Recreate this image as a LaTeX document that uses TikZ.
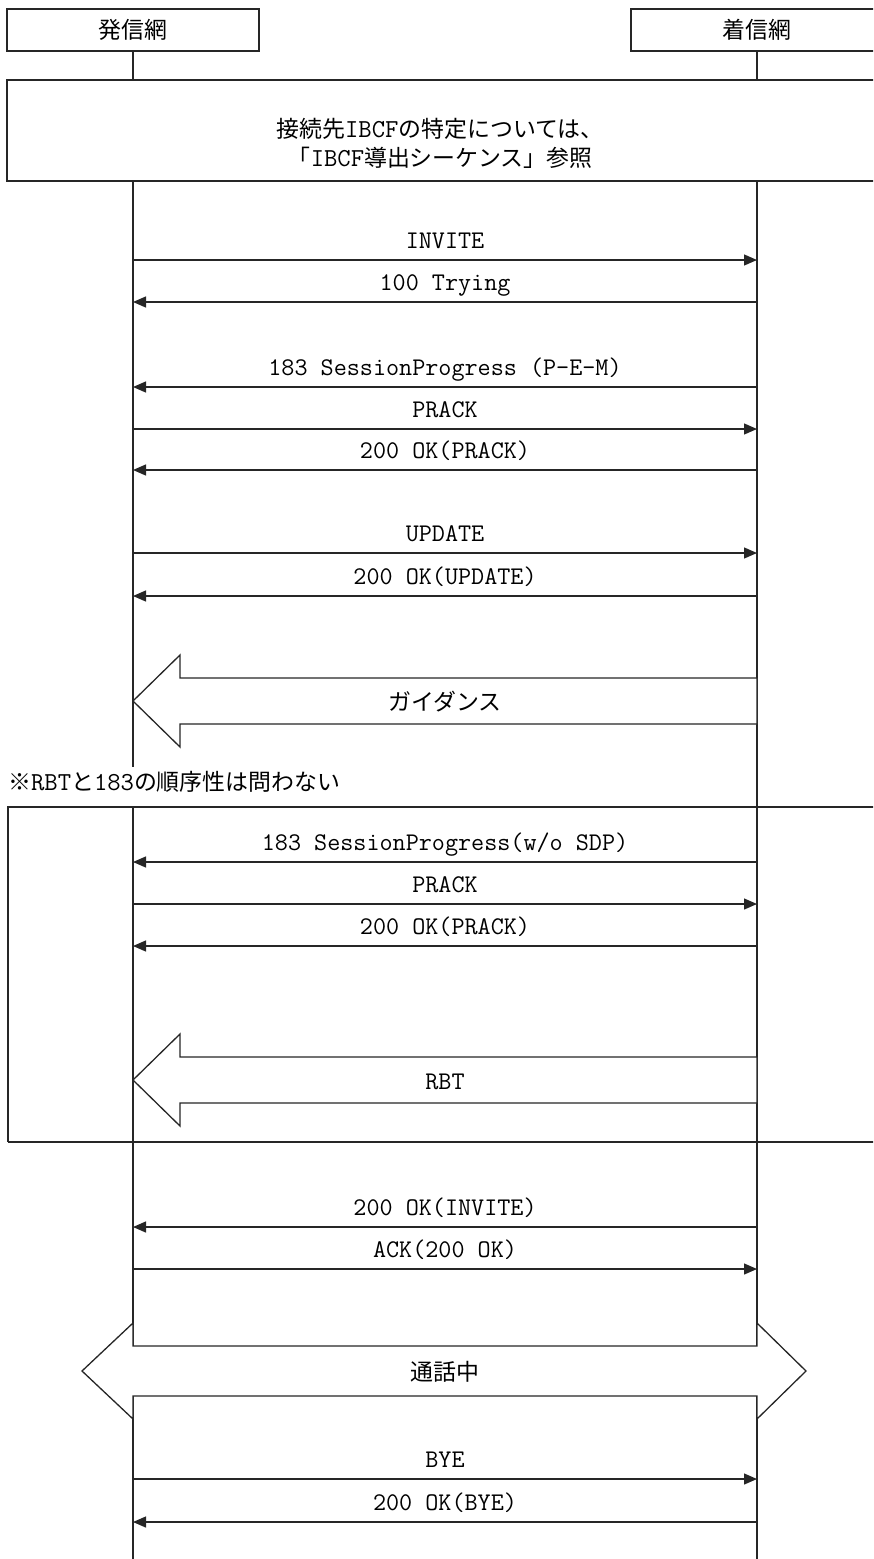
\documentclass[tikz,border=0pt]{standalone}
\usepackage{fontspec}
\newfontfamily\jp{Noto Sans CJK JP}
\newcommand\lat{\ttfamily}
\newcommand\il[1]{{\ttfamily\fontsize{26}{28}\selectfont #1}}
\usetikzlibrary{arrows.meta}
\tikzset{
  ln/.style={line width=1.3bp, draw=black!85},
  msg/.style={ln, -{Triangle[length=13bp,width=11bp]}},
  box/.style={ln, fill=white},
  lab/.style={anchor=base, inner sep=0pt, font=\lat\fontsize{25.5}{28}\selectfont},
  jlab/.style={anchor=center, inner sep=0pt, font=\jp\fontsize{23}{28}\selectfont},
}
\newcommand\sigR[3]{%
  \coordinate (#1a) at (133,#2); \coordinate (#1b) at (757,#2);
  \draw[msg] (#1a) -- (#1b);
  \node[lab] (#1t) at (445,#2-12) {#3};}
\newcommand\sigL[3]{%
  \coordinate (#1a) at (133,#2); \coordinate (#1b) at (757,#2);
  \draw[msg] (#1b) -- (#1a);
  \node[lab] (#1t) at (445,#2-12) {#3};}
\begin{document}
\begin{tikzpicture}[x=1bp,y=-1bp]
\useasboundingbox (0,0) rectangle (873,1559);
\clip (0,0) rectangle (873,1559);
% lifelines
\coordinate (A0) at (133,51); \coordinate (A1) at (133,80);
\coordinate (A2) at (133,181); \coordinate (A3) at (133,767);
\coordinate (A4) at (133,807); \coordinate (A5) at (133,1346);
\coordinate (A6) at (133,1396); \coordinate (A7) at (133,1565);
\coordinate (B0) at (757,51); \coordinate (B1) at (757,80);
\coordinate (B2) at (757,181); \coordinate (B5) at (757,1346);
\coordinate (B6) at (757,1396); \coordinate (B7) at (757,1565);
\draw[ln] (A0) -- (A1) (A2) -- (A3) (A4) -- (A5) (A6) -- (A7);
\draw[ln] (B0) -- (B1) (B2) -- (B5) (B6) -- (B7);
% headers
\draw[box] (7,9) rectangle (259,51);
\node[jlab] (hA) at (133,30) {発信網};
\draw[box] (631,9) rectangle (883,51);
\node[jlab] (hB) at (757,30) {着信網};
% top box
\draw[box] (7,80) rectangle (883,181);
\node[jlab] (top1) at (440,129) {接続先\il{IBCF}の特定については、};
\node[jlab] (top2) at (440,158) {「\il{IBCF}導出シーケンス」参照};
% messages
\sigR{m1}{260}{INVITE}
\sigL{m2}{302}{100 Trying}
\sigL{m3}{387}{183 SessionProgress (P-E-M)}
\sigR{m4}{429}{PRACK}
\sigL{m5}{470}{200 OK(PRACK)}
\sigR{m6}{553}{UPDATE}
\sigL{m7}{596}{200 OK(UPDATE)}
% guidance
\draw[box] (133,701) -- (180,655) -- (180,678) -- (757,678) -- (757,724) -- (180,724) -- (180,747) -- cycle;
\node[jlab] (g) at (445,702) {ガイダンス};
% note
\node[jlab, anchor=west] (note) at (8,782) {※\il{RBT}と\il{183}の順序性は問わない};
% box
\draw[ln] (8,1142) -- (8,807) -- (883,807);
\draw[ln] (8,1142) -- (883,1142);
\sigL{n1}{862}{183 SessionProgress(w/o SDP)}
\sigR{n2}{904}{PRACK}
\sigL{n3}{946}{200 OK(PRACK)}
\draw[box] (133,1080) -- (180,1034) -- (180,1057) -- (757,1057) -- (757,1103) -- (180,1103) -- (180,1126) -- cycle;
\node[lab] (rbt) at (445,1089) {RBT};
\sigL{k1}{1227}{200 OK(INVITE)}
\sigR{k2}{1269}{ACK(200 OK)}
% in call
\draw[box] (A5) -- (B5) -- (757,1323) -- (806,1371) -- (757,1419) -- (B6) -- (A6) -- (133,1419) -- (82,1371) -- (133,1323) -- cycle;
\node[jlab] (call) at (445,1372) {通話中};
\sigR{z1}{1479}{BYE}
\sigL{z2}{1522}{200 OK(BYE)}
\end{tikzpicture}
\end{document}
